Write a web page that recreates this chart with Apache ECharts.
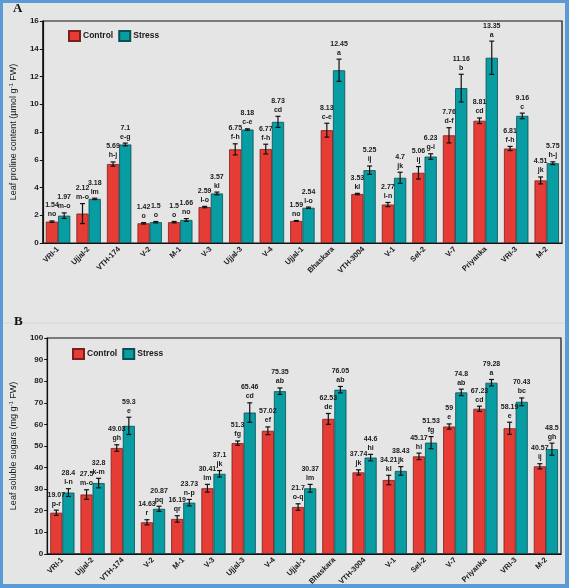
<!DOCTYPE html>
<html>
<head>
<meta charset="utf-8">
<script src="https://cdn.jsdelivr.net/npm/echarts@6/dist/echarts.min.js"></script>
<style>
  html, body { margin: 0; padding: 0; background: #e5e5e5; }
  #chart { position: absolute; left: 0; top: 0; width: 569px; height: 588px; }
  #frame { position: absolute; left: 0; top: 0; width: 569px; height: 588px; box-sizing: border-box;
           border: 3px solid #5b9bd5; border-right-width: 4px; border-bottom-width: 4px; pointer-events: none; }
</style>
</head>
<body>
<div id="chart"></div>
<div id="frame"></div>
<script>
// genotypes, same order in both panels
var genotypes = ['VRI-1', 'Ujjal-2', 'VTH-174', 'V-2', 'M-1', 'V-3', 'Ujjal-3', 'V-4', 'Ujjal-1',
                 'Bhaskara', 'VTH-3004', 'V-1', 'Sel-2', 'V-7', 'Priyanka', 'VRI-3', 'M-2'];

// A: leaf proline content
var prolineControl = [1.54, 2.12, 5.69, 1.42, 1.5, 2.59, 6.75, 6.77, 1.59, 8.13, 3.53, 2.77, 5.06, 7.76, 8.81, 6.81, 4.51];
var prolineControlErr = [0.05, 0.72, 0.15, 0.05, 0.05, 0.05, 0.4, 0.35, 0.03, 0.5, 0.05, 0.15, 0.45, 0.55, 0.2, 0.15, 0.25];
var prolineControlLetters = ['no', 'm-o', 'h-j', 'o', 'o', 'l-o', 'f-h', 'f-h', 'no', 'c-e', 'kl', 'l-n', 'ij', 'd-f', 'cd', 'f-h', 'jk'];
var prolineStress = [1.97, 3.18, 7.1, 1.5, 1.66, 3.57, 8.18, 8.73, 2.54, 12.45, 5.25, 4.7, 6.23, 11.16, 13.35, 9.16, 5.75];
var prolineStressErr = [0.2, 0.05, 0.1, 0.05, 0.1, 0.1, 0.05, 0.4, 0.05, 0.8, 0.3, 0.4, 0.2, 1.0, 1.2, 0.2, 0.1];
var prolineStressLetters = ['m-o', 'lm', 'e-g', 'o', 'no', 'kl', 'c-e', 'cd', 'l-o', 'a', 'ij', 'jk', 'g-i', 'b', 'a', 'c', 'h-j'];

// B: leaf soluble sugars
var sugarControl = [19.07, 27.5, 49.03, 14.63, 16.19, 30.41, 51.3, 57.02, 21.7, 62.53, 37.74, 34.21, 45.17, 59, 67.23, 58.19, 40.57];
var sugarControlErr = [1.2, 2.2, 1.5, 1.2, 1.5, 1.8, 1.0, 1.8, 1.5, 2.5, 1.2, 2.2, 1.5, 1.2, 1.2, 2.8, 1.2];
var sugarControlLetters = ['p-r', 'm-o', 'gh', 'r', 'qr', 'lm', 'fg', 'ef', 'o-q', 'de', 'jk', 'kl', 'hi', 'e', 'cd', 'e', 'ij'];
var sugarStress = [28.4, 32.8, 59.3, 20.87, 23.73, 37.1, 65.46, 75.35, 30.37, 76.05, 44.6, 38.43, 51.53, 74.8, 79.28, 70.43, 48.5];
var sugarStressErr = [1.8, 2.2, 4.0, 1.2, 1.5, 1.5, 4.5, 1.5, 1.8, 1.5, 1.5, 2.0, 2.8, 1.5, 1.5, 1.8, 2.8];
var sugarStressLetters = ['l-n', 'k-m', 'e', 'pq', 'n-p', 'jk', 'cd', 'ab', 'lm', 'ab', 'hi', 'jk', 'fg', 'ab', 'a', 'bc', 'gh'];

var yTicksA = { min: 0, max: 16, interval: 2 };
var yTicksB = { min: 0, max: 100, interval: 10 };

var RED = '#e63c36', TEAL = '#089ca3';
var FONT = '"Liberation Sans", Arial, sans-serif';

// error bar + "value / letter" label, drawn with the axis scales
function errSeries(name, gridIdx, values, errs, letters, side) {
    return {
        name: name,
        type: 'custom',
        xAxisIndex: gridIdx, yAxisIndex: gridIdx,
        z: 5,
        data: values.map(function (v, i) { return [i, v]; }),
        renderItem: function (params, api) {
            var i = params.dataIndex;
            var band = api.size([1, 0])[0];
            var x = api.coord([i, 0])[0] + side * band * 0.2;
            var top = api.coord([i, values[i] + errs[i]])[1];
            var bot = api.coord([i, values[i] - errs[i]])[1];
            var cap = 2.5;
            var ls = { stroke: '#111', lineWidth: 1.2 };
            return {
                type: 'group',
                children: [
                    { type: 'line', shape: { x1: x, y1: top, x2: x, y2: bot }, style: ls },
                    { type: 'line', shape: { x1: x - cap, y1: top, x2: x + cap, y2: top }, style: ls },
                    { type: 'line', shape: { x1: x - cap, y1: bot, x2: x + cap, y2: bot }, style: ls },
                    { type: 'text', style: {
                        text: values[i] + '\n' + letters[i],
                        x: x, y: top - 2,
                        align: 'center', verticalAlign: 'bottom',
                        font: 'bold 7px ' + FONT, lineHeight: 9, fill: '#1a1a1a'
                    } }
                ]
            };
        }
    };
}

function barSeries(name, gridIdx, values, color, border) {
    return {
        name: name, type: 'bar',
        xAxisIndex: gridIdx, yAxisIndex: gridIdx,
        data: values,
        barGap: '0%', barCategoryGap: '20%',
        itemStyle: { color: color, borderColor: border, borderWidth: 0.8 }
    };
}

function xAxisFor(gridIdx) {
    return {
        type: 'category', gridIndex: gridIdx, data: genotypes,
        axisLine: { lineStyle: { color: '#111', width: 1.2 } },
        axisTick: { alignWithLabel: true, length: 3, lineStyle: { color: '#111' } },
        axisLabel: { rotate: 45, margin: 5, color: '#1a1a1a', fontWeight: 'bold', fontSize: 7.5, fontFamily: FONT }
    };
}

function yAxisFor(gridIdx, ticks, label, gap) {
    return {
        type: 'value', gridIndex: gridIdx,
        min: ticks.min, max: ticks.max, interval: ticks.interval,
        name: label, nameLocation: 'middle', nameGap: gap,
        nameTextStyle: {
            color: '#1a1a1a', fontSize: 9, fontFamily: FONT, lineHeight: 11,
            rich: { sup: { fontSize: 6, verticalAlign: 'top', lineHeight: 11, fontFamily: FONT, color: '#1a1a1a' } }
        },
        axisLine: { show: true, lineStyle: { color: '#111', width: 1.2 } },
        axisTick: { show: true, length: 3, lineStyle: { color: '#111' } },
        splitLine: { show: false },
        axisLabel: { margin: 4, color: '#1a1a1a', fontWeight: 'bold', fontSize: 8, fontFamily: FONT }
    };
}

var legendStyle = {
    padding: 0,
    itemWidth: 11, itemHeight: 10, itemGap: 5, icon: 'rect',
    textStyle: { color: '#1a1a1a', fontWeight: 'bold', fontSize: 8.5, fontFamily: FONT, padding: [0, 0, 0, -2] },
    data: ['Control', 'Stress']
};

var chart = echarts.init(document.getElementById('chart'), null, { renderer: 'canvas' });

chart.setOption({
    backgroundColor: '#e5e5e5',
    animation: false,
    grid: [
        { left: 31, top: 21, right: 7, bottom: 345, show: true, borderColor: '#111', borderWidth: 1.2, backgroundColor: 'transparent' },
        { left: 35, top: 338, right: 8, bottom: 28, show: true, borderColor: '#111', borderWidth: 1.2, backgroundColor: 'transparent' }
    ],
    legend: [
        Object.assign({ left: 68, top: 30 }, legendStyle),
        Object.assign({ left: 72, top: 348 }, legendStyle)
    ],
    xAxis: [xAxisFor(0), xAxisFor(1)],
    yAxis: [
        yAxisFor(0, yTicksA, 'Leaf proline content (µmol g{sup|-1} FW)', 18),
        yAxisFor(1, yTicksB, 'Leaf soluble sugars (mg g{sup|-1} FW)', 23)
    ],
    graphic: [
        { type: 'text', left: 13, top: 2, style: { text: 'A', font: 'bold 13px "Liberation Serif", serif', fill: '#111' } },
        { type: 'line', shape: { x1: 3, y1: 323, x2: 565, y2: 323 }, style: { stroke: '#d6d6d6', lineWidth: 1 } },
        { type: 'text', left: 14, top: 315, style: { text: 'B', font: 'bold 13px "Liberation Serif", serif', fill: '#111' } }
    ],
    series: [
        barSeries('Control', 0, prolineControl, RED, '#7a1f1b'),
        barSeries('Stress', 0, prolineStress, TEAL, '#0b4f52'),
        errSeries('Control', 0, prolineControl, prolineControlErr, prolineControlLetters, -1),
        errSeries('Stress', 0, prolineStress, prolineStressErr, prolineStressLetters, 1),
        barSeries('Control', 1, sugarControl, RED, '#7a1f1b'),
        barSeries('Stress', 1, sugarStress, TEAL, '#0b4f52'),
        errSeries('Control', 1, sugarControl, sugarControlErr, sugarControlLetters, -1),
        errSeries('Stress', 1, sugarStress, sugarStressErr, sugarStressLetters, 1)
    ]
});
</script>
</body>
</html>
